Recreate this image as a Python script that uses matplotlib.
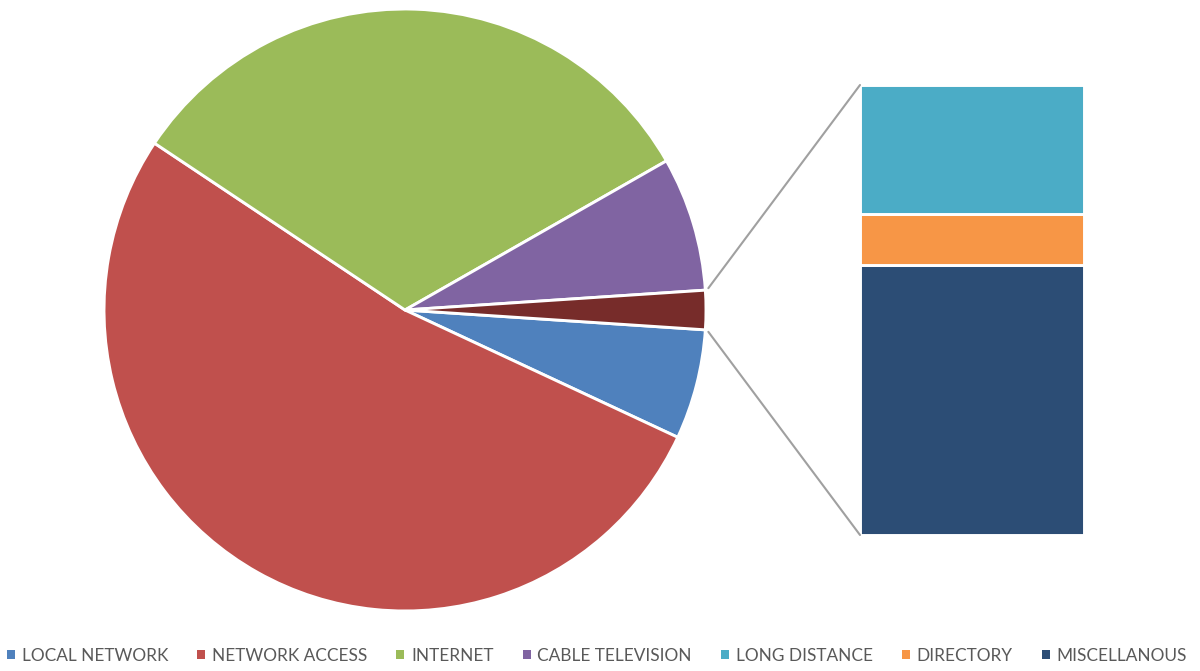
import matplotlib
matplotlib.use("Agg")
import matplotlib.pyplot as plt
from matplotlib.patches import Patch, ConnectionPatch
import numpy as np

# pie slices (percent), last slice is the "other" group shown in the bar
pie_labels = ['LOCAL NETWORK', 'NETWORK ACCESS', 'INTERNET', 'CABLE TELEVISION']
pie_values = [5.9, 52.4, 32.4, 7.2]
pie_colors = ['#4F81BD', '#C0504D', '#9BBB59', '#8064A2']
other_color = '#772C2A'

# breakdown of the "other" slice (top to bottom in the bar)
bar_labels = ['LONG DISTANCE', 'DIRECTORY', 'MISCELLANOUS']
bar_values = [0.6, 0.24, 1.26]
bar_colors = ['#4BACC6', '#F79646', '#2C4D75']

plt.rcParams['font.family'] = ['Lato', 'DejaVu Sans']

fig = plt.figure(figsize=(12, 6.71), dpi=100)

other_total = sum(bar_values)
values = pie_values + [other_total]
colors = pie_colors + [other_color]
start = -other_total / sum(values) * 360 / 2

ax = fig.add_axes([104 / 1200, 60 / 671, 602 / 1200, 602 / 671])
ax.pie(values, colors=colors, startangle=start, counterclock=False, radius=1,
       wedgeprops=dict(edgecolor='white', linewidth=2.1))
ax.set_xlim(-1, 1)
ax.set_ylim(-1, 1)
ax.set_aspect('equal')
ax.axis('off')

# stacked bar for the "other" slice
bx = fig.add_axes([860 / 1200, 136 / 671, 224 / 1200, 450 / 671])
bottom = 0
for lab, val, col in zip(bar_labels[::-1], bar_values[::-1], bar_colors[::-1]):
    bx.bar(0, val, bottom=bottom, width=1, color=col, edgecolor='white', linewidth=2.1)
    bottom += val
bx.set_xlim(-0.5, 0.5)
bx.set_ylim(0, other_total)
bx.axis('off')

# connector lines
theta = np.deg2rad(-start)
for sign, ytop in [(1, other_total), (-1, 0)]:
    con = ConnectionPatch(xyA=(np.cos(theta) + 0.01, sign * np.sin(theta) * 1.1), coordsA=ax.transData,
                          xyB=(-0.5, ytop), coordsB=bx.transData,
                          color='#A0A0A0', linewidth=1.5)
    fig.add_artist(con)

handles = [Patch(facecolor=c) for c in pie_colors + bar_colors]
fig.legend(handles, pie_labels + bar_labels, loc='center', bbox_to_anchor=(0.4975, 1 - 656 / 671),
           ncol=7, frameon=False, fontsize=12.4, handlelength=0.45, handleheight=0.45,
           handletextpad=0.4, columnspacing=1.7, labelcolor='#595959')

fig.savefig('out.png', dpi=100)
